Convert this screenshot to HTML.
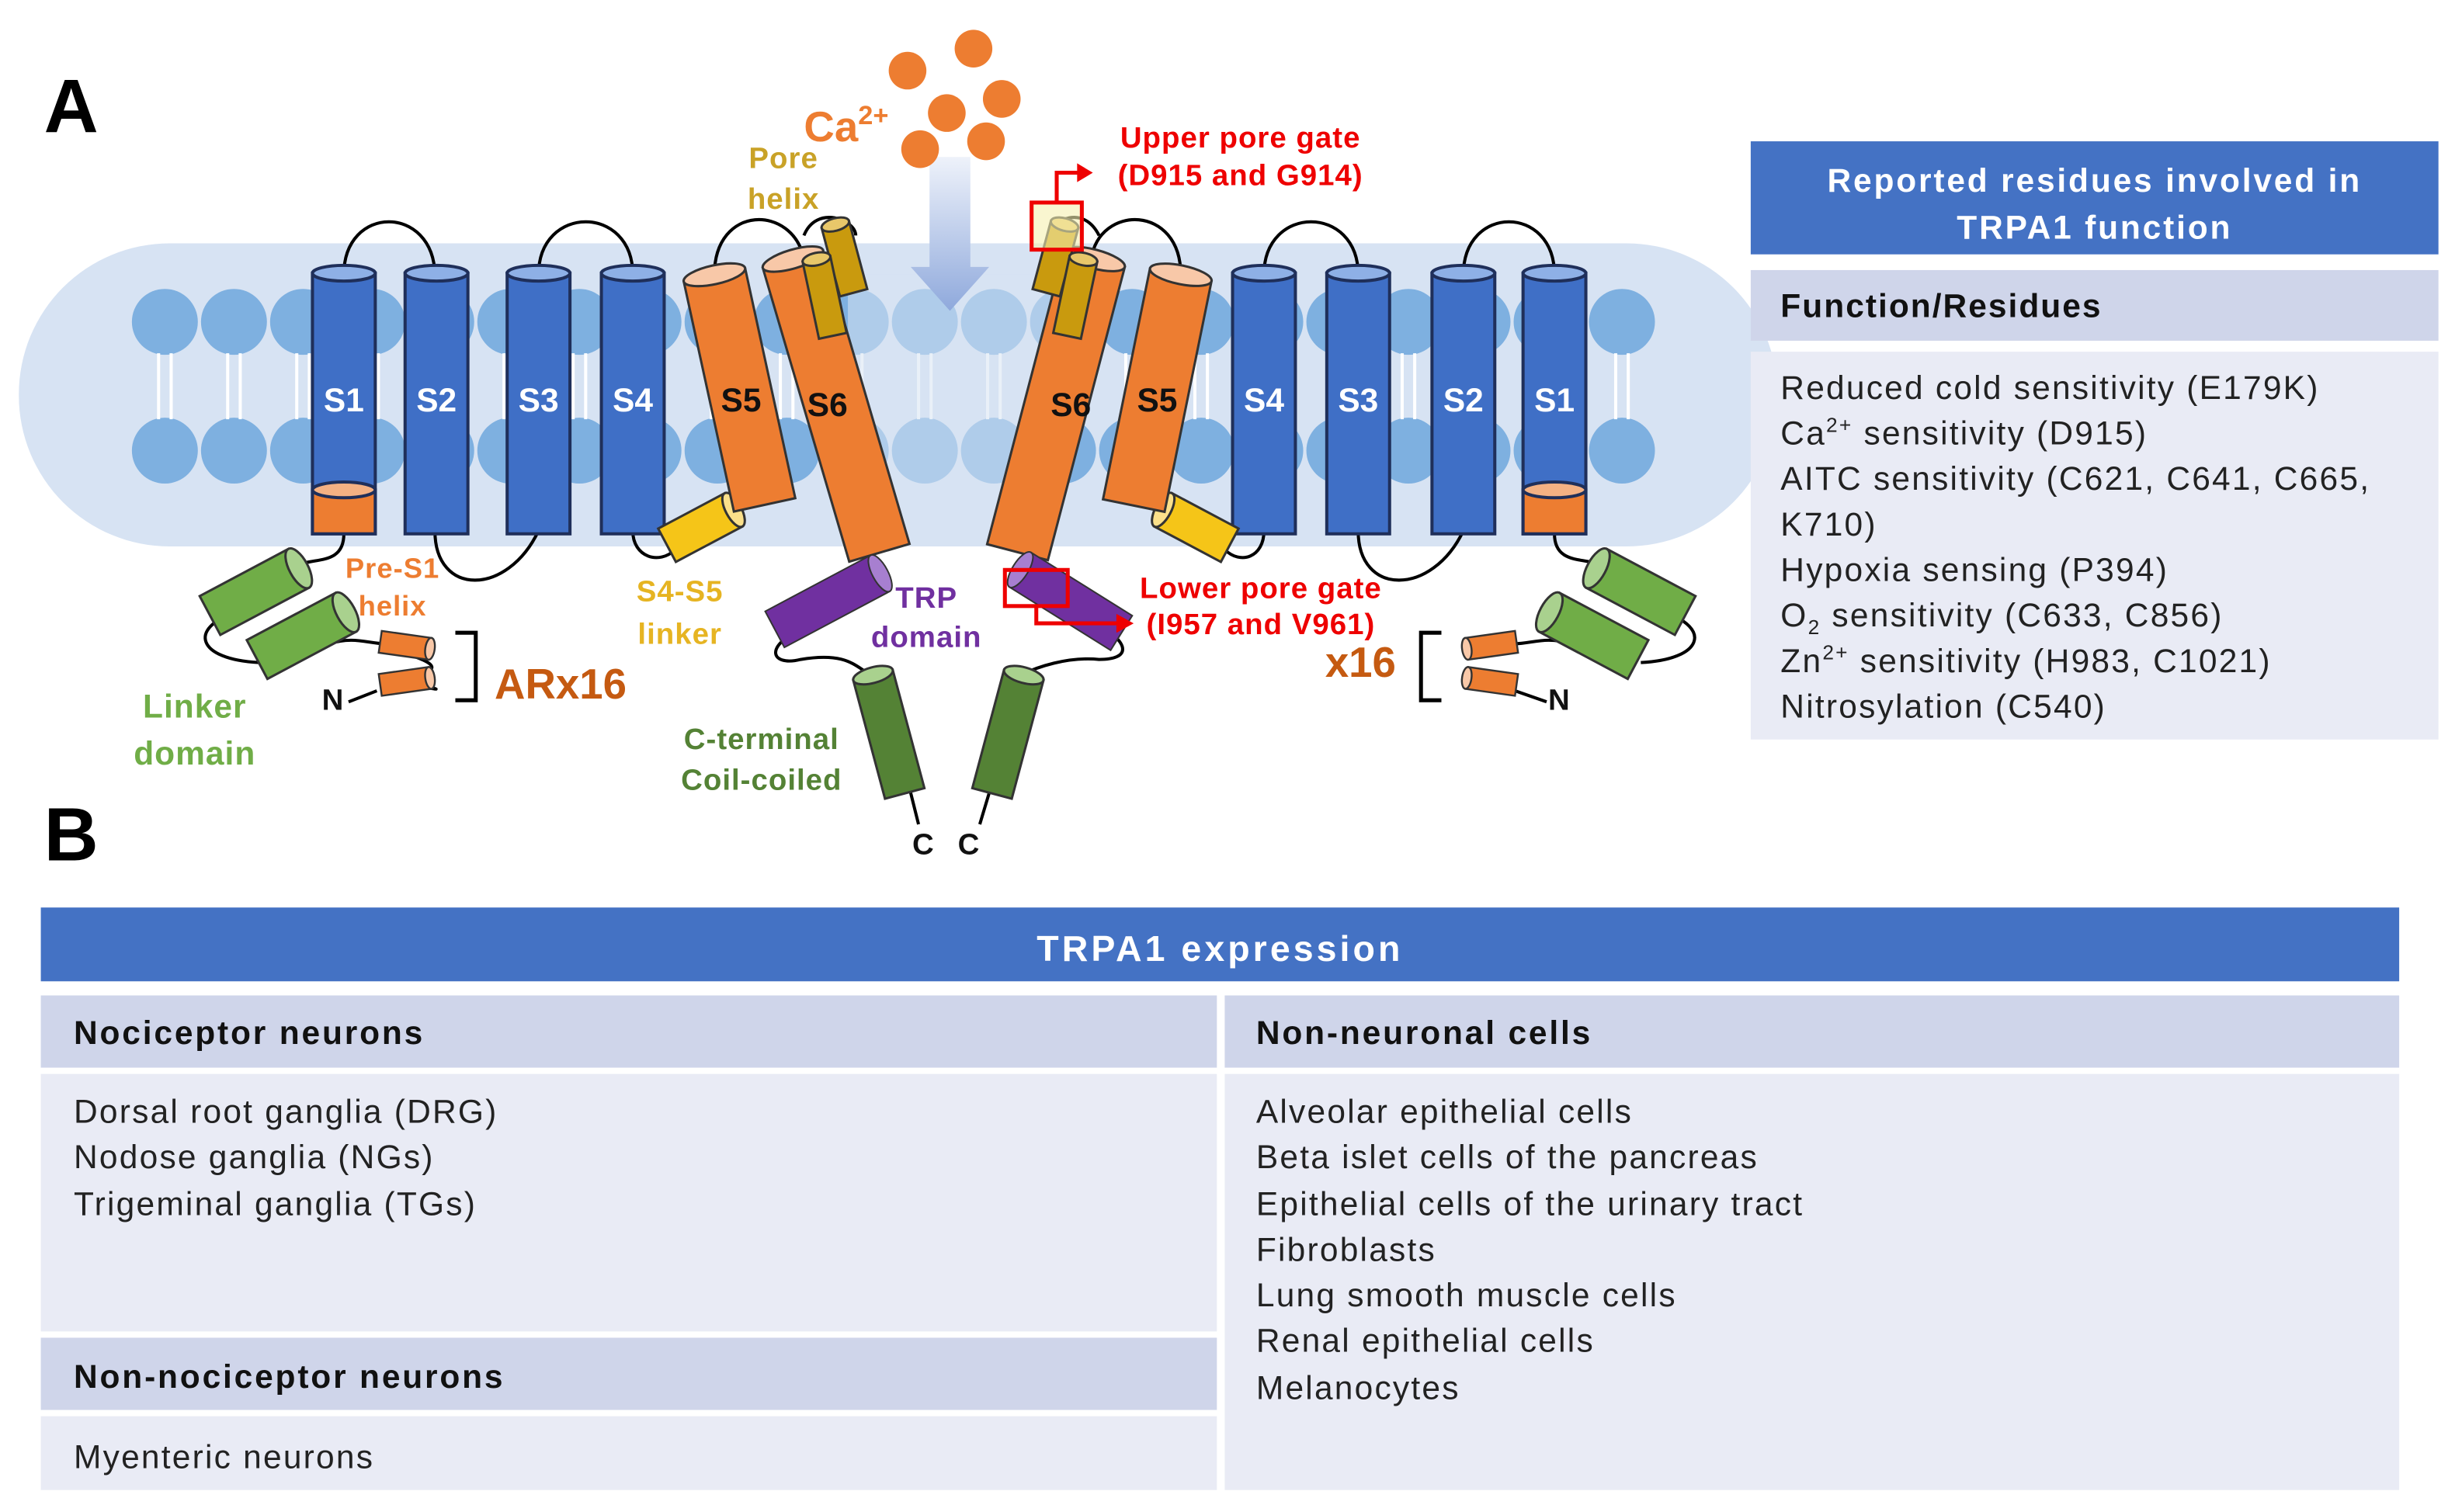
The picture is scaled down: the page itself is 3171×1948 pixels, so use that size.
<!DOCTYPE html>
<html><head><meta charset="utf-8"><style>
html,body{margin:0;padding:0;background:#fff}
svg{display:block}
text{font-family:"Liberation Sans",Arial,sans-serif}
</style></head><body>
<svg width="3171" height="1948" viewBox="0 0 1568 963" preserveAspectRatio="none" xmlns="http://www.w3.org/2000/svg">
<defs>
<linearGradient id="arr" x1="0" y1="0" x2="0" y2="1"><stop offset="0" stop-color="#eef2fa"/><stop offset="1" stop-color="#8fa9dc"/></linearGradient>
<g id="lip"><circle cx="0" cy="0" r="21" fill="#7eb0e0"/><circle cx="0" cy="82" r="21" fill="#7eb0e0"/><path d="M-4 20V62M4 20V62" stroke="#fff" stroke-width="2"/></g>
</defs>
<rect width="1568" height="963" fill="#fff"/>
<text x="28" y="84" font-size="48" font-weight="bold">A</text>
<text x="28" y="548" font-size="48" font-weight="bold">B</text>
<rect x="12" y="155" width="1120" height="193" rx="96" fill="#d7e3f3"/>
<g>
<use href="#lip" x="105" y="205"/><use href="#lip" x="149" y="205"/><use href="#lip" x="193" y="205"/><use href="#lip" x="237" y="205"/><use href="#lip" x="281" y="205"/><use href="#lip" x="325" y="205"/><use href="#lip" x="369" y="205"/><use href="#lip" x="413" y="205"/><use href="#lip" x="457" y="205"/><use href="#lip" x="501" y="205"/><use href="#lip" x="545" y="205"/><use href="#lip" x="589" y="205"/><use href="#lip" x="633" y="205"/><use href="#lip" x="677" y="205"/><use href="#lip" x="721" y="205"/><use href="#lip" x="765" y="205"/><use href="#lip" x="809" y="205"/><use href="#lip" x="853" y="205"/><use href="#lip" x="897" y="205"/><use href="#lip" x="941" y="205"/><use href="#lip" x="985" y="205"/><use href="#lip" x="1033" y="205"/>
</g>
<rect x="540" y="175" width="130" height="150" fill="#d7e3f3" opacity="0.55"/>
<g fill="none" stroke="#000" stroke-width="2">
<path d="M219 175C219 130 276 130 277 175"/><path d="M343 175C343 130 403 130 403 175"/>
<path d="M455 175C455 130 505 130 512 165"/><path d="M512 150C520 130 545 140 545 150"/>
<path d="M805 175C805 130 865 130 865 175"/><path d="M932 175C932 130 990 130 990 175"/>
<path d="M752 175C752 130 700 130 695 165"/><path d="M700 150C690 130 670 140 668 150"/>
<path d="M277 338C277 380 323 380 343 338"/><path d="M403 338C403 355 420 360 430 350"/>
<path d="M865 338C865 380 912 380 932 338"/><path d="M805 338C805 355 790 360 780 350"/>
<path d="M219 340C219 360 200 355 190 360"/><path d="M150 390C120 400 125 420 165 422"/><path d="M210 410C225 405 235 410 245 410"/>
<path d="M245 412C270 420 290 425 260 432M260 433C280 440 285 440 265 437"/>
<path d="M990 340C990 360 1010 355 1020 360"/><path d="M1060 390C1090 400 1085 420 1045 422"/><path d="M1000 410C985 405 975 410 965 410"/>
<path d="M517 398C485 410 490 425 510 420C540 415 545 425 555 430"/>
<path d="M700 398C720 410 720 420 700 420C680 418 660 425 650 430"/>
<path d="M580 505L585 525M630 505L624 525"/>
<path d="M222 447L240 440M965 440L985 447"/>
</g>
<path d="M290 403H303V446H290" fill="none" stroke="#000" stroke-width="2.5"/>
<path d="M918 403H905V446H918" fill="none" stroke="#000" stroke-width="2.5"/>
<g stroke="#1f2f5a" stroke-width="2">
<g fill="#3f6fc6">
<rect x="199" y="174" width="40" height="166"/><rect x="258" y="174" width="40" height="166"/><rect x="323" y="174" width="40" height="166"/><rect x="383" y="174" width="40" height="166"/>
<rect x="785" y="174" width="40" height="166"/><rect x="845" y="174" width="40" height="166"/><rect x="912" y="174" width="40" height="166"/><rect x="970" y="174" width="40" height="166"/>
</g>
<g fill="#8eb0e6">
<ellipse cx="219" cy="174" rx="20" ry="5"/><ellipse cx="278" cy="174" rx="20" ry="5"/><ellipse cx="343" cy="174" rx="20" ry="5"/><ellipse cx="403" cy="174" rx="20" ry="5"/>
<ellipse cx="805" cy="174" rx="20" ry="5"/><ellipse cx="865" cy="174" rx="20" ry="5"/><ellipse cx="932" cy="174" rx="20" ry="5"/><ellipse cx="990" cy="174" rx="20" ry="5"/>
</g>
<rect x="199" y="312" width="40" height="28" fill="#ed7d31"/><ellipse cx="219" cy="312" rx="20" ry="5" fill="#f4b183"/>
<rect x="970" y="312" width="40" height="28" fill="#ed7d31"/><ellipse cx="990" cy="312" rx="20" ry="5" fill="#f4b183"/>
</g>
<g stroke="#333" stroke-width="1.5" fill="#f5c518">
<g transform="translate(446,336) rotate(-28)"><rect x="-24" y="-12" width="48" height="24"/><ellipse cx="24" cy="0" rx="5" ry="12" fill="#fbe08a"/></g>
<g transform="translate(762,336) rotate(28)"><rect x="-24" y="-12" width="48" height="24"/><ellipse cx="-24" cy="0" rx="5" ry="12" fill="#fbe08a"/></g>
</g>
<g stroke="#333" stroke-width="1.5" fill="#ed7d31">
<g transform="translate(455,175) rotate(-12.3)"><rect x="-20" y="0" width="40" height="150"/><ellipse cx="0" cy="0" rx="20" ry="6" fill="#f8c8a8"/></g>
<g transform="translate(505,165) rotate(-16.4)"><rect x="-20" y="0" width="40" height="195"/><ellipse cx="0" cy="0" rx="20" ry="6" fill="#f8c8a8"/></g>
<g transform="translate(697,165) rotate(14.7)"><rect x="-20" y="0" width="40" height="193"/><ellipse cx="0" cy="0" rx="20" ry="6" fill="#f8c8a8"/></g>
<g transform="translate(752,175) rotate(11.5)"><rect x="-20" y="0" width="40" height="150"/><ellipse cx="0" cy="0" rx="20" ry="6" fill="#f8c8a8"/></g>
</g>
<g stroke="#333" stroke-width="1.5" fill="#c99a0e">
<g transform="translate(532,143) rotate(-15)"><rect x="-9" y="0" width="18" height="45"/><ellipse cx="0" cy="0" rx="9" ry="4" fill="#e8c76a"/></g>
<g transform="translate(520,165) rotate(-12)"><rect x="-9" y="0" width="18" height="50"/><ellipse cx="0" cy="0" rx="9" ry="4" fill="#e8c76a"/></g>
<g transform="translate(678,143) rotate(15)"><rect x="-9" y="0" width="18" height="45"/><ellipse cx="0" cy="0" rx="9" ry="4" fill="#e8c76a"/></g>
<g transform="translate(690,165) rotate(12)"><rect x="-9" y="0" width="18" height="50"/><ellipse cx="0" cy="0" rx="9" ry="4" fill="#e8c76a"/></g>
</g>
<g stroke="#333" stroke-width="1" fill="#7030a0">
<g transform="translate(527,383) rotate(-28)"><rect x="-38" y="-13" width="76" height="26"/><ellipse cx="38" cy="0" rx="5" ry="13" fill="#a77fd0"/></g>
<g transform="translate(682,383) rotate(32)"><rect x="-38" y="-13" width="76" height="26"/><ellipse cx="-38" cy="0" rx="5" ry="13" fill="#a77fd0"/></g>
</g>
<g stroke="#333" stroke-width="1.5" fill="#70ad47">
<g transform="translate(162,377) rotate(-28)"><rect x="-32" y="-14" width="64" height="28"/><ellipse cx="32" cy="0" rx="6" ry="14" fill="#a9d18e"/></g>
<g transform="translate(192,405) rotate(-28)"><rect x="-32" y="-14" width="64" height="28"/><ellipse cx="32" cy="0" rx="6" ry="14" fill="#a9d18e"/></g>
<g transform="translate(1045,377) rotate(28)"><rect x="-32" y="-14" width="64" height="28"/><ellipse cx="-32" cy="0" rx="6" ry="14" fill="#a9d18e"/></g>
<g transform="translate(1015,405) rotate(28)"><rect x="-32" y="-14" width="64" height="28"/><ellipse cx="-32" cy="0" rx="6" ry="14" fill="#a9d18e"/></g>
</g>
<g stroke="#333" stroke-width="1.5" fill="#548235">
<g transform="translate(556,430) rotate(-15)"><rect x="-13" y="0" width="26" height="78"/><ellipse cx="0" cy="0" rx="13" ry="5" fill="#a9d18e"/></g>
<g transform="translate(652,430) rotate(15)"><rect x="-13" y="0" width="26" height="78"/><ellipse cx="0" cy="0" rx="13" ry="5" fill="#a9d18e"/></g>
</g>
<g stroke="#333" stroke-width="1.2" fill="#ed7d31">
<g transform="translate(258,411) rotate(8)"><rect x="-16" y="-7" width="32" height="14"/><ellipse cx="16" cy="0" rx="3" ry="7" fill="#f8c8a8"/></g>
<g transform="translate(258,434) rotate(-8)"><rect x="-16" y="-7" width="32" height="14"/><ellipse cx="16" cy="0" rx="3" ry="7" fill="#f8c8a8"/></g>
<g transform="translate(950,411) rotate(-8)"><rect x="-16" y="-7" width="32" height="14"/><ellipse cx="-16" cy="0" rx="3" ry="7" fill="#f8c8a8"/></g>
<g transform="translate(950,434) rotate(8)"><rect x="-16" y="-7" width="32" height="14"/><ellipse cx="-16" cy="0" rx="3" ry="7" fill="#f8c8a8"/></g>
</g>
<path d="M592 100H618V170H630L605 198L580 170H592Z" fill="url(#arr)"/>
<g fill="#ed7d31"><circle cx="578" cy="45" r="12"/><circle cx="620" cy="31" r="12"/><circle cx="603" cy="72" r="12"/><circle cx="638" cy="63" r="12"/><circle cx="586" cy="95" r="12"/><circle cx="628" cy="90" r="12"/></g>
<g fill="none" stroke="#e00" stroke-width="2.5">
<rect x="657" y="129" width="32" height="30" fill="#f5f0b0" fill-opacity="0.6"/>
<path d="M673 129V110H688"/>
<rect x="640" y="363" width="40" height="23"/>
<path d="M660 386V397H713"/>
</g>
<path d="M686 104L696 110L686 116Z" fill="#e00"/><path d="M711 391L722 397L711 403Z" fill="#e00"/>
<g font-size="21" font-weight="bold" fill="#fff" text-anchor="middle">
<text x="219" y="262">S1</text><text x="278" y="262">S2</text><text x="343" y="262">S3</text><text x="403" y="262">S4</text>
<text x="805" y="262">S4</text><text x="865" y="262">S3</text><text x="932" y="262">S2</text><text x="990" y="262">S1</text>
</g>
<g font-size="21" font-weight="bold" fill="#111" text-anchor="middle">
<text x="472" y="262">S5</text><text x="527" y="265">S6</text><text x="682" y="265">S6</text><text x="737" y="262">S5</text>
</g>
<text x="512" y="90" font-size="27" font-weight="bold" fill="#ed7d31">Ca<tspan font-size="17" dy="-11">2+</tspan></text>
<g font-size="19" font-weight="bold" text-anchor="middle" letter-spacing="0.5">
<text x="499" y="107" fill="#c9a227">Pore</text><text x="499" y="133" fill="#c9a227">helix</text>
<text x="790" y="94" fill="#e00">Upper pore gate</text><text x="790" y="118" fill="#e00">(D915 and G914)</text>
<text x="250" y="368" fill="#ed7d31" font-size="18">Pre-S1</text><text x="250" y="392" fill="#ed7d31" font-size="18">helix</text>
<text x="433" y="383" fill="#e6b422">S4-S5</text><text x="433" y="410" fill="#e6b422">linker</text>
<text x="590" y="387" fill="#7030a0">TRP</text><text x="590" y="412" fill="#7030a0">domain</text>
<text x="803" y="381" fill="#e00">Lower pore gate</text><text x="803" y="404" fill="#e00">(I957 and V961)</text>
<text x="124" y="457" fill="#70ad47" font-size="21">Linker</text><text x="124" y="487" fill="#70ad47" font-size="21">domain</text>
<text x="485" y="477" fill="#548235">C-terminal</text><text x="485" y="503" fill="#548235">Coil-coiled</text>
</g>
<g font-size="19" font-weight="bold" fill="#111">
<text x="205" y="452">N</text><text x="986" y="452">N</text>
<text x="581" y="544">C</text><text x="610" y="544">C</text>
</g>
<text x="315" y="445" font-size="27" font-weight="bold" fill="#c55a11">ARx16</text>
<text x="844" y="431" font-size="27" font-weight="bold" fill="#c55a11">x16</text>
<rect x="1115" y="90" width="438" height="72" fill="#4472c4"/>
<rect x="1115" y="172" width="438" height="45" fill="#cfd5ea"/>
<rect x="1115" y="224" width="438" height="247" fill="#e9ebf5"/>
<g font-size="21" font-weight="bold" fill="#fff" text-anchor="middle" letter-spacing="1.4"><text x="1334" y="122">Reported residues involved in</text><text x="1334" y="152">TRPA1 function</text></g>
<text x="1134" y="202" font-size="21" font-weight="bold" fill="#111" letter-spacing="1">Function/Residues</text>
<g font-size="21" fill="#222" letter-spacing="1.1">
<text x="1134" y="254">Reduced cold sensitivity (E179K)</text>
<text x="1134" y="283">Ca<tspan font-size="13" dy="-8">2+</tspan><tspan dy="8"> sensitivity (D915)</tspan></text>
<text x="1134" y="312">AITC sensitivity (C621, C641, C665,</text>
<text x="1134" y="341">K710)</text>
<text x="1134" y="370">Hypoxia sensing  (P394)</text>
<text x="1134" y="399">O<tspan font-size="13" dy="5">2</tspan><tspan dy="-5"> sensitivity (C633, C856)</tspan></text>
<text x="1134" y="428">Zn<tspan font-size="13" dy="-8">2+</tspan><tspan dy="8"> sensitivity (H983, C1021)</tspan></text>
<text x="1134" y="457">Nitrosylation (C540)</text>
</g>
<rect x="26" y="578" width="1502" height="47" fill="#4472c4"/>
<text x="777" y="612" font-size="23" font-weight="bold" fill="#fff" text-anchor="middle" letter-spacing="2">TRPA1 expression</text>
<rect x="26" y="634" width="749" height="46" fill="#cfd5ea"/>
<rect x="26" y="684" width="749" height="164" fill="#e9ebf5"/>
<rect x="26" y="852" width="749" height="46" fill="#cfd5ea"/>
<rect x="26" y="902" width="749" height="47" fill="#e9ebf5"/>
<rect x="780" y="634" width="748" height="46" fill="#cfd5ea"/>
<rect x="780" y="684" width="748" height="265" fill="#e9ebf5"/>
<g font-size="21" font-weight="bold" fill="#111" letter-spacing="1.4">
<text x="47" y="665">Nociceptor neurons</text><text x="47" y="884">Non-nociceptor neurons</text><text x="800" y="665">Non-neuronal cells</text>
</g>
<g font-size="21" fill="#222" letter-spacing="1.1">
<text x="47" y="715">Dorsal root ganglia (DRG)</text><text x="47" y="744">Nodose ganglia (NGs)</text><text x="47" y="774">Trigeminal ganglia (TGs)</text>
<text x="47" y="935">Myenteric neurons</text>
<text x="800" y="715">Alveolar epithelial cells</text><text x="800" y="744">Beta islet cells of the pancreas</text><text x="800" y="774">Epithelial cells of the urinary tract</text><text x="800" y="803">Fibroblasts</text><text x="800" y="832">Lung smooth muscle cells</text><text x="800" y="861">Renal epithelial cells</text><text x="800" y="891">Melanocytes</text>
</g>
</svg>
</body></html>
